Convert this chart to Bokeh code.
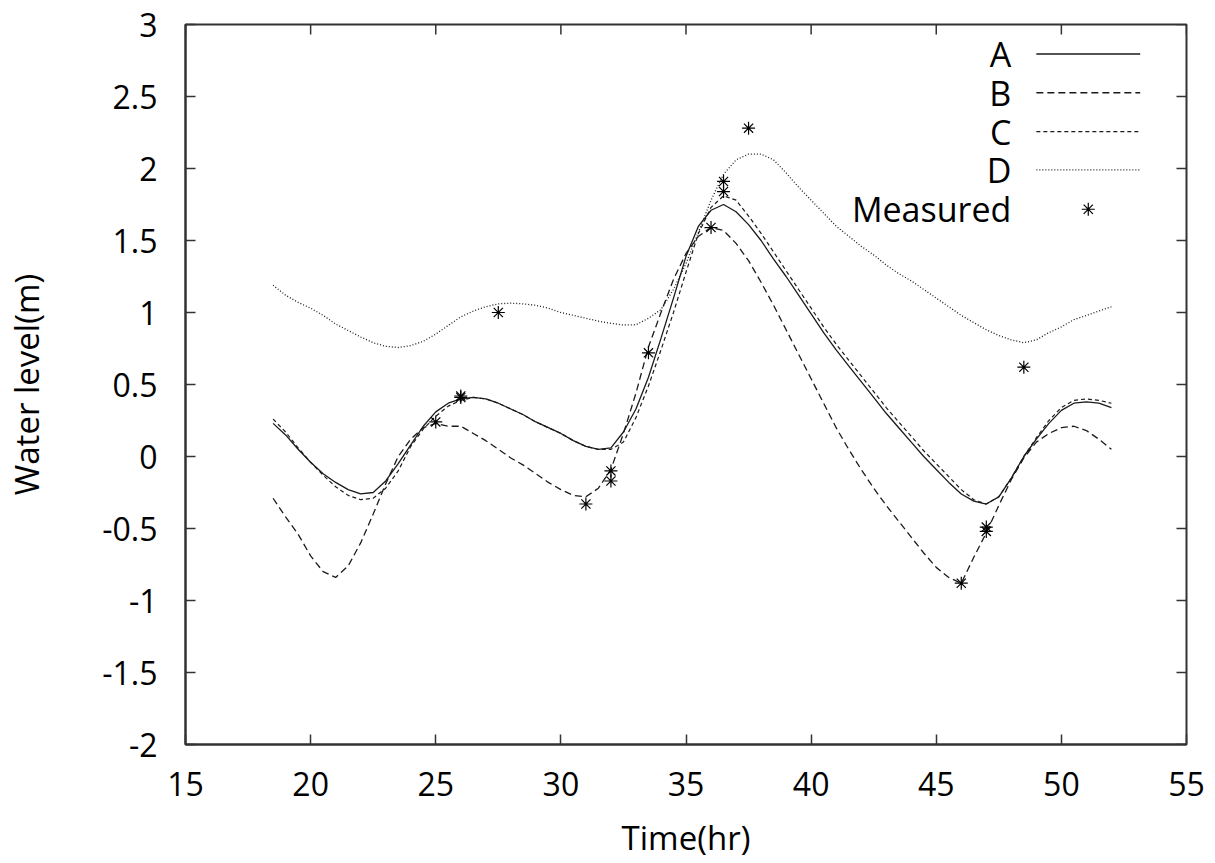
from bokeh.plotting import figure
from bokeh.models import Range1d, FixedTicker, Label
from bokeh.embed import file_html
from bokeh.resources import INLINE

# ---------------- data ----------------
time_A = [18.5, 19.0, 19.5, 20.0, 20.5, 21.0, 21.5, 22.0, 22.5, 23.0, 23.5, 24.0, 24.5, 25.0, 25.5,
          26.0, 26.5, 27.0, 27.5, 28.0, 28.5, 29.0, 29.5, 30.0, 30.5, 31.0, 31.5, 32.0, 32.5, 33.0,
          33.5, 34.0, 34.5, 35.0, 35.5, 36.0, 36.5, 37.0, 37.5, 38.0, 38.5, 39.0, 39.5, 40.0, 40.5,
          41.0, 41.5, 42.0, 42.5, 43.0, 43.5, 44.0, 44.5, 45.0, 45.5, 46.0, 46.5, 47.0, 47.5, 48.0,
          48.5, 49.0, 49.5, 50.0, 50.5, 51.0, 51.5, 52.0]
level_A = [0.23, 0.15, 0.05, -0.04, -0.12, -0.18, -0.23, -0.26, -0.25, -0.17, -0.05, 0.08, 0.21, 0.31, 0.37,
           0.40, 0.41, 0.40, 0.37, 0.33, 0.29, 0.24, 0.20, 0.16, 0.11, 0.07, 0.05, 0.06, 0.17, 0.33,
           0.55, 0.82, 1.10, 1.39, 1.60, 1.71, 1.75, 1.70, 1.61, 1.50, 1.37, 1.25, 1.12, 0.99, 0.86,
           0.74, 0.63, 0.52, 0.41, 0.30, 0.20, 0.10, 0.00, -0.09, -0.18, -0.26, -0.31, -0.33, -0.28, -0.15,
           0.00, 0.12, 0.23, 0.32, 0.37, 0.38, 0.37, 0.34]

time_B = time_A
level_B = [-0.29, -0.42, -0.54, -0.69, -0.80, -0.84, -0.76, -0.60, -0.40, -0.19, 0.00, 0.12, 0.20, 0.23, 0.21,
           0.21, 0.16, 0.11, 0.05, -0.01, -0.06, -0.12, -0.18, -0.23, -0.27, -0.28, -0.22, -0.09, 0.16, 0.44,
           0.76, 1.00, 1.23, 1.41, 1.53, 1.59, 1.57, 1.48, 1.36, 1.21, 1.05, 0.88, 0.71, 0.54, 0.37,
           0.20, 0.05, -0.09, -0.22, -0.34, -0.45, -0.56, -0.67, -0.77, -0.84, -0.88, -0.70, -0.53, -0.34, -0.16,
           -0.01, 0.10, 0.16, 0.20, 0.21, 0.18, 0.12, 0.05]

time_C = time_A
level_C = [0.26, 0.17, 0.06, -0.04, -0.13, -0.21, -0.27, -0.30, -0.29, -0.22, -0.10, 0.07, 0.19, 0.28, 0.35,
           0.39, 0.41, 0.40, 0.37, 0.33, 0.29, 0.24, 0.20, 0.16, 0.11, 0.07, 0.05, 0.05, 0.10, 0.27,
           0.49, 0.74, 1.00, 1.28, 1.55, 1.73, 1.81, 1.78, 1.67, 1.55, 1.42, 1.29, 1.16, 1.03, 0.90,
           0.78, 0.67, 0.56, 0.45, 0.34, 0.24, 0.14, 0.04, -0.05, -0.14, -0.23, -0.30, -0.33, -0.28, -0.15,
           0.00, 0.13, 0.25, 0.34, 0.39, 0.40, 0.39, 0.37]

time_D = time_A
level_D = [1.19, 1.12, 1.07, 1.03, 0.98, 0.92, 0.875, 0.83, 0.79, 0.765, 0.757, 0.77, 0.80, 0.85, 0.91,
           0.97, 1.01, 1.04, 1.06, 1.065, 1.06, 1.05, 1.03, 1.00, 0.98, 0.96, 0.94, 0.925, 0.913, 0.915,
           0.96, 1.02, 1.16, 1.34, 1.56, 1.78, 1.96, 2.06, 2.10, 2.10, 2.06, 1.97, 1.87, 1.78, 1.69,
           1.60, 1.53, 1.46, 1.40, 1.33, 1.27, 1.22, 1.16, 1.10, 1.04, 0.98, 0.93, 0.88, 0.84, 0.81,
           0.79, 0.81, 0.86, 0.90, 0.95, 0.98, 1.01, 1.04]

time_measured = [25.0, 26.0, 26.0, 27.5, 31.0, 32.0, 32.0, 33.5, 36.0, 36.5, 36.5, 37.5, 46.0, 47.0, 47.0, 48.5]
level_measured = [0.24, 0.42, 0.41, 1.00, -0.33, -0.10, -0.17, 0.72, 1.59, 1.91, 1.84, 2.28, -0.88, -0.49, -0.52, 0.62]

x_ticks = [15, 20, 25, 30, 35, 40, 45, 50, 55]
y_ticks = [-2, -1.5, -1, -0.5, 0, 0.5, 1, 1.5, 2, 2.5, 3]
y_tick_labels = ["-2", "-1.5", "-1", "-0.5", "0", "0.5", "1", "1.5", "2", "2.5", "3"]

series_names = ["A", "B", "C", "D"]
measured_name = "Measured"

# ---------------- styles ----------------
FONT = "Open Sans"
INK = "#1a1a1a"
AXIS = "#333333"
dashes = {"A": "solid", "B": "7 4", "C": "4 3", "D": "1 2"}
widths = {"A": 1.3, "B": 1.3, "C": 1.2, "D": 1.3}

X0, X1, Y0, Y1 = 15, 55, -2, 3
FRAME_W, FRAME_H = 1001, 720
TICK_LEN = 10  # px, ticks point inward

p = figure(frame_width=FRAME_W, frame_height=FRAME_H,
           x_range=Range1d(X0, X1), y_range=Range1d(Y0, Y1),
           output_backend="svg", toolbar_location=None,
           min_border_left=185, min_border_right=25, min_border_top=24, min_border_bottom=115,
           background_fill_color="white", border_fill_color="white")
p.xgrid.visible = False
p.ygrid.visible = False
p.outline_line_color = AXIS
p.outline_line_width = 2

p.xaxis.axis_label = "Time(hr)"
p.yaxis.axis_label = "Water level(m)"


def style_axis(ax, ticks):
    ax.ticker = FixedTicker(ticks=ticks)
    ax.axis_line_color = AXIS
    ax.axis_line_width = 2
    ax.major_tick_line_color = AXIS
    ax.major_tick_line_width = 1.5
    ax.major_tick_in = TICK_LEN
    ax.major_tick_out = 0
    ax.minor_tick_line_color = None
    ax.major_label_text_font = FONT
    ax.major_label_text_font_size = "32px"
    ax.major_label_text_color = "black"
    ax.axis_label_text_font = FONT
    ax.axis_label_text_font_size = "33px"
    ax.axis_label_text_font_style = "normal"
    ax.axis_label_text_color = "black"


style_axis(p.xaxis[0], x_ticks)
p.xaxis[0].major_label_standoff = 27
p.xaxis[0].axis_label_standoff = 16
style_axis(p.yaxis[0], y_ticks)
p.yaxis[0].major_label_overrides = {t: s for t, s in zip(y_ticks, y_tick_labels)}
p.yaxis[0].major_label_standoff = 28
p.yaxis[0].axis_label_standoff = 50

# mirrored inward ticks on the top and right edges (gnuplot "mirror" style)
dy_tick = TICK_LEN * (Y1 - Y0) / FRAME_H
dx_tick = TICK_LEN * (X1 - X0) / FRAME_W
p.segment(x0=x_ticks, y0=[Y1] * len(x_ticks), x1=x_ticks, y1=[Y1 - dy_tick] * len(x_ticks),
          line_color=AXIS, line_width=1.5)
p.segment(x0=[X1] * len(y_ticks), y0=y_ticks, x1=[X1 - dx_tick] * len(y_ticks), y1=y_ticks,
          line_color=AXIS, line_width=1.5)

curves = {"A": (time_A, level_A), "B": (time_B, level_B), "C": (time_C, level_C), "D": (time_D, level_D)}
for name in series_names:
    t, v = curves[name]
    p.line(t, v, line_color=INK, line_width=widths[name], line_dash=dashes[name])

p.scatter(time_measured, level_measured, marker="asterisk", size=13,
          line_color="black", line_width=1.2)

# ---------------- legend (gnuplot style: label right-aligned, sample to the right) ----------------
legend_text_x = 48.0
legend_x0, legend_x1 = 49.0, 53.15
legend_rows_y = [2.795, 2.526, 2.256, 1.99, 1.717]
for i, name in enumerate(series_names):
    y = legend_rows_y[i]
    p.add_layout(Label(x=legend_text_x, y=y, text=name, text_align="right", text_baseline="middle",
                       text_font=FONT, text_font_size="34px", text_color="black"))
    p.segment(x0=[legend_x0], y0=[y], x1=[legend_x1], y1=[y], line_color=INK,
              line_width=widths[name], line_dash=dashes[name])
y = legend_rows_y[4]
p.add_layout(Label(x=legend_text_x, y=y, text=measured_name, text_align="right", text_baseline="middle",
                   text_font=FONT, text_font_size="34px", text_color="black"))
p.scatter([(legend_x0 + legend_x1) / 2], [y], marker="asterisk", size=13, line_color="black", line_width=1.2)

open("out.html", "w").write(file_html(p, INLINE))
